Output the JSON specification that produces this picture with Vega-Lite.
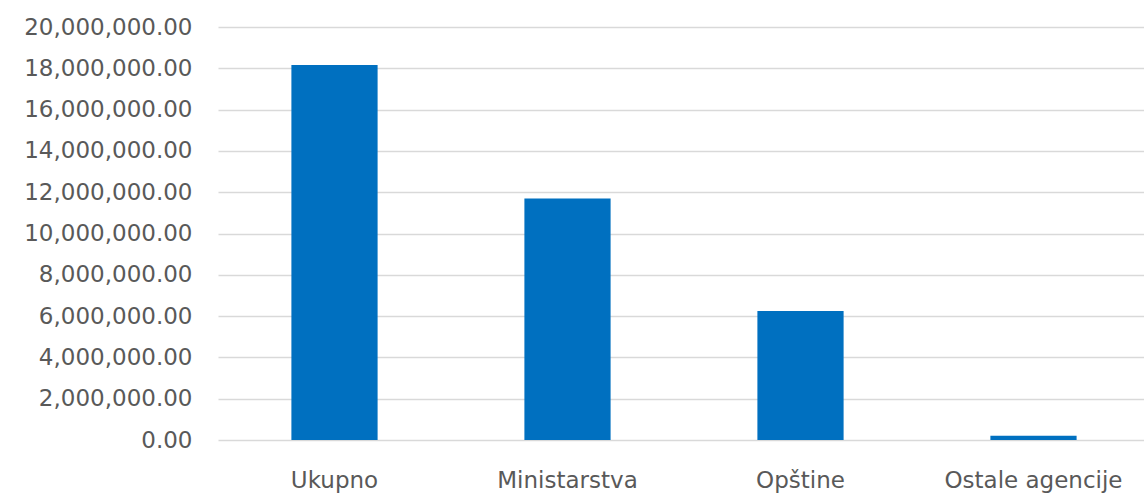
{
  "$schema": "https://vega.github.io/schema/vega-lite/v6.json",
  "autosize": "none",
  "padding": {"left": 218, "top": 27, "right": 0, "bottom": 57},
  "width": 932,
  "height": 413,
  "background": "white",
  "config": {
    "view": {"stroke": null},
    "font": "DejaVu Sans"
  },
  "data": {
    "values": [
      {"kategorija": "Ukupno", "iznos": 18160000},
      {"kategorija": "Ministarstva", "iznos": 11690000},
      {"kategorija": "Opštine", "iznos": 6250000},
      {"kategorija": "Ostale agencije", "iznos": 210000}
    ]
  },
  "mark": {"type": "bar", "color": "#0070C0"},
  "encoding": {
    "x": {
      "field": "kategorija",
      "type": "nominal",
      "sort": null,
      "scale": {"paddingInner": 0.63, "paddingOuter": 0.315},
      "axis": {
        "title": null,
        "labelAngle": 0,
        "labelFontSize": 23,
        "labelColor": "#595959",
        "labelPadding": 29,
        "ticks": false,
        "domain": false,
        "labelFont": "DejaVu Sans"
      }
    },
    "y": {
      "field": "iznos",
      "type": "quantitative",
      "scale": {"domain": [0, 20000000], "nice": false},
      "axis": {
        "title": null,
        "values": [0, 2000000, 4000000, 6000000, 8000000, 10000000, 12000000, 14000000, 16000000, 18000000, 20000000],
        "format": ",.2f",
        "labelFontSize": 23,
        "labelColor": "#595959",
        "labelPadding": 26,
        "ticks": false,
        "domain": false,
        "grid": true,
        "gridColor": "#d9d9d9",
        "gridWidth": 1.5,
        "labelFont": "DejaVu Sans"
      }
    }
  }
}
